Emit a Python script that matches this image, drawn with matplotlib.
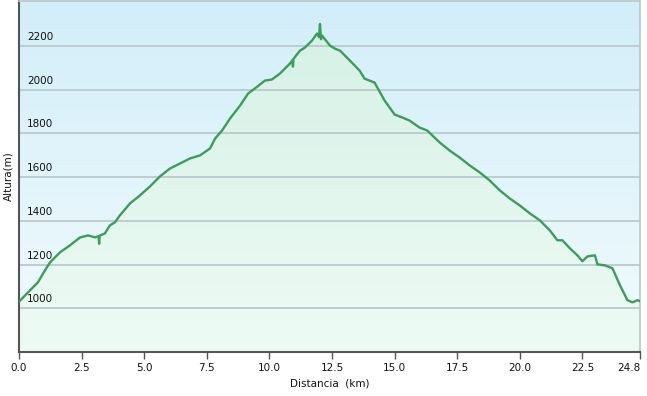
import numpy as np
import matplotlib
matplotlib.use("Agg")
import matplotlib.pyplot as plt
from matplotlib.colors import LinearSegmentedColormap

# perfil de altura
distancia = [0.0, 0.44, 0.76, 1.04, 1.24, 1.64, 2.04, 2.44, 2.76, 3.04, 3.18, 3.2, 3.22,
             3.43, 3.63, 3.83, 4.03, 4.43, 4.83, 5.23, 5.63, 6.03, 6.43, 6.83, 7.23,
             7.63, 7.83, 8.11, 8.43, 8.83, 9.15, 9.42, 9.82, 10.1, 10.42, 10.82, 10.92,
             10.94, 10.96, 11.22, 11.42, 11.7, 11.9, 11.98, 12.02, 12.06, 12.1, 12.42,
             12.62, 12.82, 13.22, 13.6, 13.8, 14.2, 14.6, 15.0, 15.4, 15.6, 16.0, 16.3,
             16.8, 17.2, 17.6, 18.0, 18.4, 18.8, 19.2, 19.6, 20.0, 20.4, 20.8, 21.2,
             21.5, 21.7, 22.0, 22.3, 22.5, 22.7, 23.0, 23.1, 23.4, 23.7, 24.0, 24.3,
             24.5, 24.7, 24.8]
altura = [1030, 1082, 1119, 1174, 1210, 1256, 1288, 1324, 1333, 1324, 1330, 1295, 1332,
          1342, 1379, 1393, 1425, 1479, 1516, 1557, 1603, 1639, 1662, 1685, 1699,
          1731, 1776, 1813, 1868, 1927, 1982, 2005, 2041, 2046, 2073, 2119, 2135,
          2105, 2140, 2178, 2192, 2224, 2256, 2240, 2300, 2230, 2247, 2201,
          2187, 2178, 2132, 2087, 2050, 2032, 1950, 1886, 1868, 1858, 1826, 1813,
          1758, 1721, 1689, 1653, 1621, 1584, 1539, 1502, 1470, 1434, 1402, 1356,
          1311, 1311, 1274, 1242, 1215, 1237, 1242, 1201, 1196, 1183, 1105, 1037,
          1027, 1037, 1032]

xticks = [0.0, 2.5, 5.0, 7.5, 10.0, 12.5, 15.0, 17.5, 20.0, 22.5, 24.8]
yticks = [1000, 1200, 1400, 1600, 1800, 2000, 2200]

x = np.array(distancia)
y = np.array(altura)
ymin, ymax = 800, 2405

fig = plt.figure(figsize=(6.47, 3.96), dpi=100)
ax = fig.add_axes([19/647, 44/396, 621/647, 351/396])

# fondo degradado azul
cielo = LinearSegmentedColormap.from_list("cielo", ["#f2fbfd", "#d2eef9"])
ax.imshow(np.linspace(0, 1, 256).reshape(-1, 1), cmap=cielo, origin="lower",
          aspect="auto", extent=[0, 24.8, ymin, ymax], zorder=0)

# relleno verde bajo el perfil
verde = LinearSegmentedColormap.from_list("verde", ["#eefbf5", "#d6f1e6"])
poly = ax.fill_between(x, ymin, y, color="none", zorder=1)
img = ax.imshow(np.linspace(0, 1, 256).reshape(-1, 1), cmap=verde, origin="lower",
                aspect="auto", extent=[0, 24.8, ymin, y.max()], zorder=1)
img.set_clip_path(poly.get_paths()[0], transform=ax.transData)

for t in yticks:
    ax.axhline(t, color="#b8c6ca", lw=1.2, zorder=2)
    ax.text(0.32, t + 18, str(t), fontsize=7.5, color="#111111", zorder=3,
            ha="left", va="bottom")

ax.plot(x, y, color="#3a9e5a", lw=1.7, zorder=4, solid_joinstyle="round")

ax.set_xlim(0, 24.8)
ax.set_ylim(ymin, ymax)
ax.set_xticks(xticks)
ax.set_xticklabels([f"{t:.1f}" for t in xticks], fontsize=7.5, color="#111111")
ax.get_xticklabels()[-1].set_horizontalalignment("right")
ax.set_yticks([])
ax.tick_params(axis="x", length=5, width=1, color="#555555", pad=3)
ax.set_xlabel("Distancia  (km)", fontsize=7.5, color="#111111", labelpad=4)
ax.set_ylabel("Altura(m)", fontsize=7.5, color="#111111", labelpad=4)

for s in ["left", "bottom"]:
    ax.spines[s].set_color("#555555")
    ax.spines[s].set_linewidth(1.5)
for s in ["top", "right"]:
    ax.spines[s].set_color("#b8c6ca")
    ax.spines[s].set_linewidth(1.2)

fig.savefig("out.png", dpi=100)
